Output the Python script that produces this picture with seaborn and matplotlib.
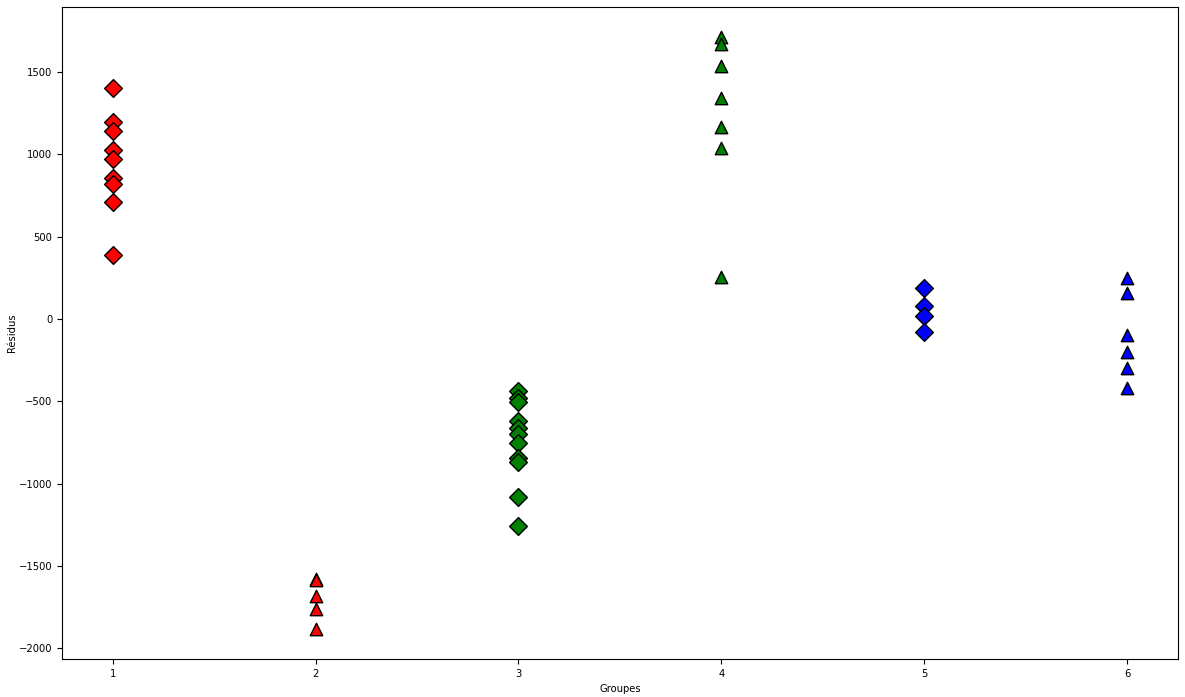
import matplotlib
matplotlib.use("Agg")
import matplotlib.pyplot as plt
import seaborn as sns
import pandas as pd

# Data
g1_diamond_red = [1405, 1195, 1140, 1025, 970, 857, 821, 707, 386]
g2_triangle_red = [-1577, -1588, -1683, -1763, -1885]
g3_diamond_green = [-435, -483, -505, -617, -661, -698, -752, -843, -867, -1082, -1256]
g4_triangle_green = [1714, 1670, 1538, 1340, 1165, 1037, 255]
g5_diamond_blue = [188, 78, 20, -81]
g6_triangle_blue = [247, 155, -100, -203, -298, -419]

groups = [
    (1, g1_diamond_red, "red", "D"),
    (2, g2_triangle_red, "red", "^"),
    (3, g3_diamond_green, "green", "D"),
    (4, g4_triangle_green, "green", "^"),
    (5, g5_diamond_blue, "blue", "D"),
    (6, g6_triangle_blue, "blue", "^"),
]

plt.rcParams["font.family"] = ["DejaVu Sans"]
plt.rcParams["font.size"] = 7.2

fig = plt.figure(figsize=(11.85, 6.97), dpi=100)
ax = fig.add_axes([0.0523, 0.0545, 0.9417, 0.9355])

for g, vals, col, mk in groups:
    df = pd.DataFrame({"Groupes": [g] * len(vals), "Résidus": vals})
    size = 80 if mk == "^" else 82
    sns.scatterplot(data=df, x="Groupes", y="Résidus", color=col, marker=mk,
                    s=size, edgecolor="black", linewidth=1.0, ax=ax, legend=False)

ax.set_xlabel("Groupes")
ax.set_ylabel("Résidus")
ax.yaxis.set_label_coords(-0.040, 0.5)
ax.set_xticks([1, 2, 3, 4, 5, 6])
ax.tick_params(labelsize=7.2)

fig.savefig("out.png", dpi=100, facecolor="white")
